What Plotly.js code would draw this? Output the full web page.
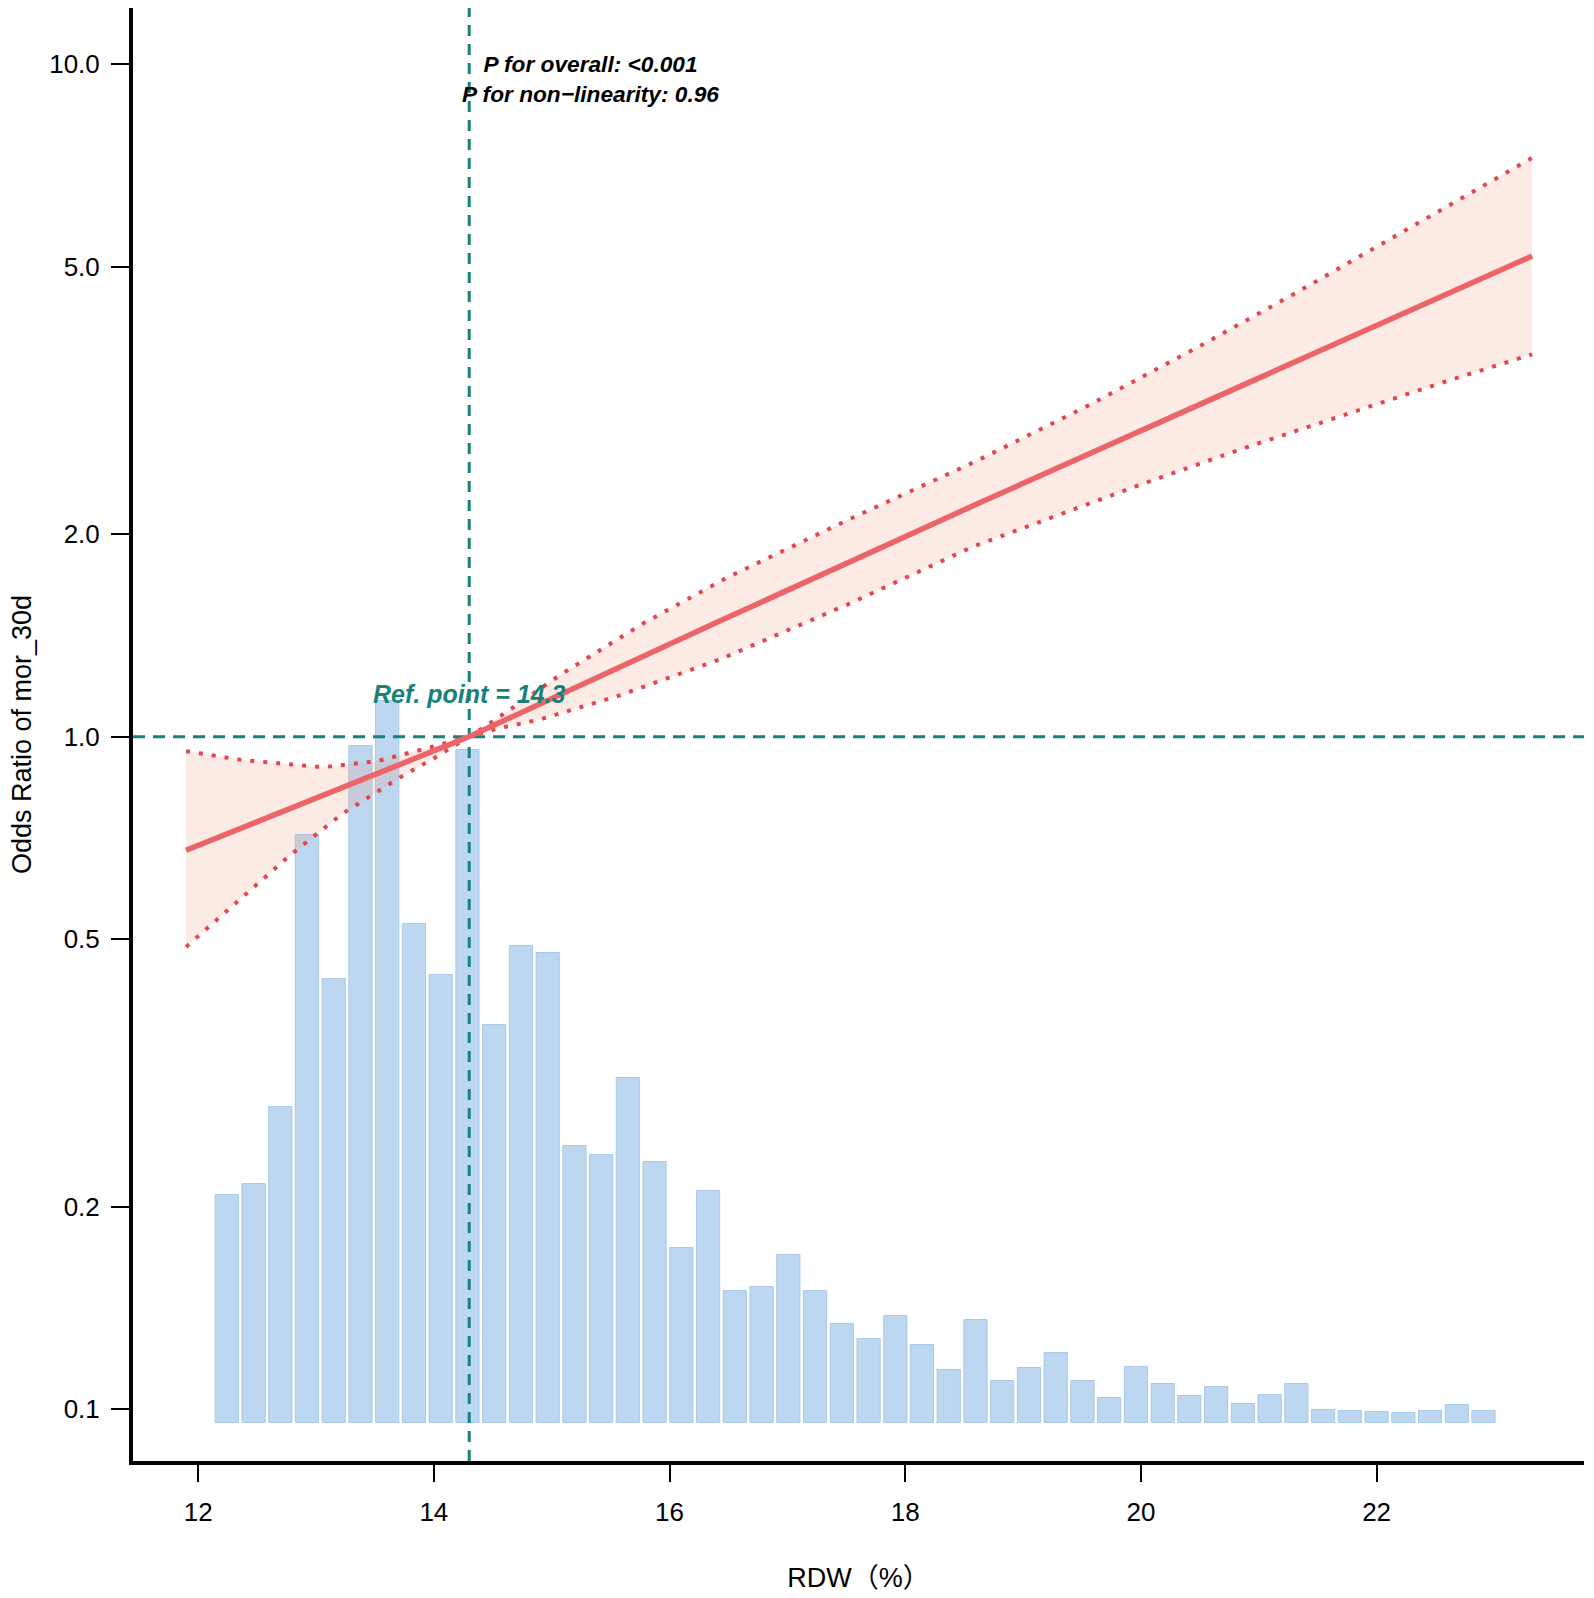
<!DOCTYPE html>
<html>
<head>
<meta charset="utf-8">
<script src="https://cdn.plot.ly/plotly-3.0.1.min.js"></script>
<style>
  html, body { margin: 0; padding: 0; background: #ffffff; }
  #chart { width: 1594px; height: 1598px; }
</style>
</head>
<body>
<div id="chart"></div>
<script>
// ---------- data ----------
const refPoint = 14.3;

// histogram of RDW (bin centres, relative heights)
const histX = [12.243, 12.470, 12.697, 12.923, 13.150, 13.377, 13.604, 13.831, 14.058, 14.285,
               14.512, 14.739, 14.966, 15.193, 15.420, 15.646, 15.873, 16.100, 16.327, 16.554,
               16.781, 17.008, 17.235, 17.462, 17.689, 17.916, 18.142, 18.369, 18.596, 18.823,
               19.050, 19.277, 19.504, 19.731, 19.958, 20.185, 20.411, 20.638, 20.865, 21.092,
               21.319, 21.546, 21.773, 22.000, 22.227, 22.454, 22.681, 22.907];
const histFreq = [22.8, 23.9, 31.6, 58.8, 44.4, 67.7, 72.2, 49.9, 44.8, 67.3,
                  39.8, 47.7, 47.0, 27.7, 26.8, 34.5, 26.1, 17.5, 23.2, 13.2,
                  13.6, 16.8, 13.2, 9.9, 8.4, 10.7, 7.8, 5.3, 10.3, 4.2,
                  5.5, 7.0, 4.2, 2.5, 5.6, 3.9, 2.7, 3.6, 1.9, 2.8,
                  3.9, 1.3, 1.2, 1.1, 1.0, 1.2, 1.8, 1.2];

// fitted odds ratio
const fitX  = [11.897, 13.40, 14.297, 16.426, 18.631, 20.976, 23.320];
const fitOR = [0.678, 0.864, 1.000, 1.486, 2.228, 3.400, 5.186];

// upper 95% CI
const upperX  = [11.897, 12.363, 13.056, 13.519, 13.975, 14.297, 14.503, 15.069, 15.775, 16.483,
                 17.543, 18.603, 19.545, 20.473, 21.294, 22.111, 22.817, 23.320];
const upperOR = [0.952, 0.924, 0.901, 0.920, 0.965, 1.000, 1.055, 1.235, 1.474, 1.723,
                 2.113, 2.570, 3.103, 3.788, 4.549, 5.483, 6.463, 7.261];

// lower 95% CI
const lowerX  = [11.897, 12.335, 12.773, 13.222, 13.717, 14.023, 14.297, 14.545, 14.899, 15.563,
                 16.440, 17.514, 18.574, 19.225, 20.001, 20.884, 21.767, 22.550, 23.320];
const lowerOR = [0.487, 0.570, 0.665, 0.768, 0.871, 0.934, 1.000, 1.029, 1.061, 1.150,
                 1.306, 1.574, 1.917, 2.113, 2.373, 2.690, 3.032, 3.360, 3.704];

// axis ticks
const xTicks = [12, 14, 16, 18, 20, 22];
const yTickVals = [0.1, 0.2, 0.5, 1, 2, 5, 10];
const yTickText = ['0.1', '0.2', '0.5', '1.0', '2.0', '5.0', '10.0'];

const pOverall = '<0.001';
const pNonlin = '0.96';

// ---------- styles ----------
const FONT = 'Liberation Sans, Arial, Helvetica, sans-serif';
const TEAL = '#17817a';
const xRange = [11.447, 23.76];
const yLogRange = [-1.0769, 1.0837];
const yLo = Math.pow(10, yLogRange[0]);
const yHi = Math.pow(10, yLogRange[1]);

const traces = [
  {
    type: 'bar', x: histX, y: histFreq, xaxis: 'x', yaxis: 'y',
    width: 0.197,
    marker: { color: '#BDD7F0', line: { color: '#A7C9EA', width: 1 } },
    hoverinfo: 'x+y', showlegend: false
  },
  {
    type: 'scatter', mode: 'lines', x: [refPoint, refPoint], y: [yLo, yHi], yaxis: 'y2',
    line: { color: TEAL, width: 3, dash: '11px,8px' }, showlegend: false, hoverinfo: 'skip'
  },
  {
    type: 'scatter', mode: 'lines', x: xRange, y: [1, 1], yaxis: 'y2',
    line: { color: TEAL, width: 3, dash: '12px,8px' }, showlegend: false, hoverinfo: 'skip'
  },
  {
    type: 'scatter', mode: 'lines', yaxis: 'y2',
    x: upperX.concat(lowerX.slice().reverse()),
    y: upperOR.concat(lowerOR.slice().reverse()),
    fill: 'toself', fillcolor: 'rgba(240,150,120,0.2)',
    line: { width: 0 }, showlegend: false, hoverinfo: 'skip'
  },
  {
    type: 'scatter', mode: 'lines', x: upperX, y: upperOR, yaxis: 'y2',
    line: { color: '#E0474E', width: 4, dash: '4px,9px' }, showlegend: false
  },
  {
    type: 'scatter', mode: 'lines', x: lowerX, y: lowerOR, yaxis: 'y2',
    line: { color: '#E0474E', width: 4, dash: '4px,9px' }, showlegend: false
  },
  {
    type: 'scatter', mode: 'lines', x: fitX, y: fitOR, yaxis: 'y2',
    line: { color: '#EA646A', width: 5.5 }, showlegend: false
  }
];

const layout = {
  width: 1594, height: 1598,
  margin: { l: 133, r: 10, t: 8, b: 137 },
  paper_bgcolor: '#ffffff', plot_bgcolor: '#ffffff',
  showlegend: false,
  font: { family: FONT, color: '#000000', size: 26 },
  xaxis: {
    range: xRange, showgrid: false, zeroline: false,
    tickmode: 'array', tickvals: xTicks, ticktext: xTicks.map(String),
    ticks: 'outside', ticklen: 17, tickwidth: 2, tickcolor: '#000',
    ticklabelstandoff: 8,
    showline: true, linewidth: 4, linecolor: '#000',
    tickfont: { family: FONT, size: 26, color: '#000' },
    title: { text: 'RDW（%）', font: { family: 'Liberation Sans, Noto Sans CJK SC, sans-serif', size: 27, color: '#000' }, standoff: 43 },
    automargin: false
  },
  yaxis: {
    range: [-3.85, 141.45], visible: false, fixedrange: true
  },
  yaxis2: {
    type: 'log', range: yLogRange, overlaying: 'y', side: 'left', anchor: 'x',
    showgrid: false, zeroline: false,
    tickmode: 'array', tickvals: yTickVals, ticktext: yTickText,
    ticks: 'outside', ticklen: 18, tickwidth: 2, tickcolor: '#000',
    ticklabelstandoff: 6,
    showline: true, linewidth: 4, linecolor: '#000',
    tickfont: { family: FONT, size: 26, color: '#000' },
    title: { text: 'Odds Ratio of mor_30d', font: { family: FONT, size: 27, color: '#000' }, standoff: 11 },
    automargin: false
  },
  annotations: [
    {
      xref: 'x', yref: 'y2', x: 15.33, y: 0.978,
      text: 'P for overall: ' + pOverall.replace('<', '&lt;') + '<br>P for non\u2212linearity: ' + pNonlin,
      showarrow: false, align: 'center', xanchor: 'center', yanchor: 'middle',
      font: { family: FONT, size: 22.7, color: '#000', weight: 'bold', style: 'italic' }
    },
    {
      xref: 'x', yref: 'y2', x: refPoint, y: 0.063,
      text: 'Ref. point = ' + refPoint.toFixed(1),
      showarrow: false, xanchor: 'center', yanchor: 'middle',
      font: { family: FONT, size: 25, color: TEAL, weight: 'bold', style: 'italic' }
    }
  ]
};

Plotly.newPlot('chart', traces, layout, { displayModeBar: false, staticPlot: true });
</script>
</body>
</html>
